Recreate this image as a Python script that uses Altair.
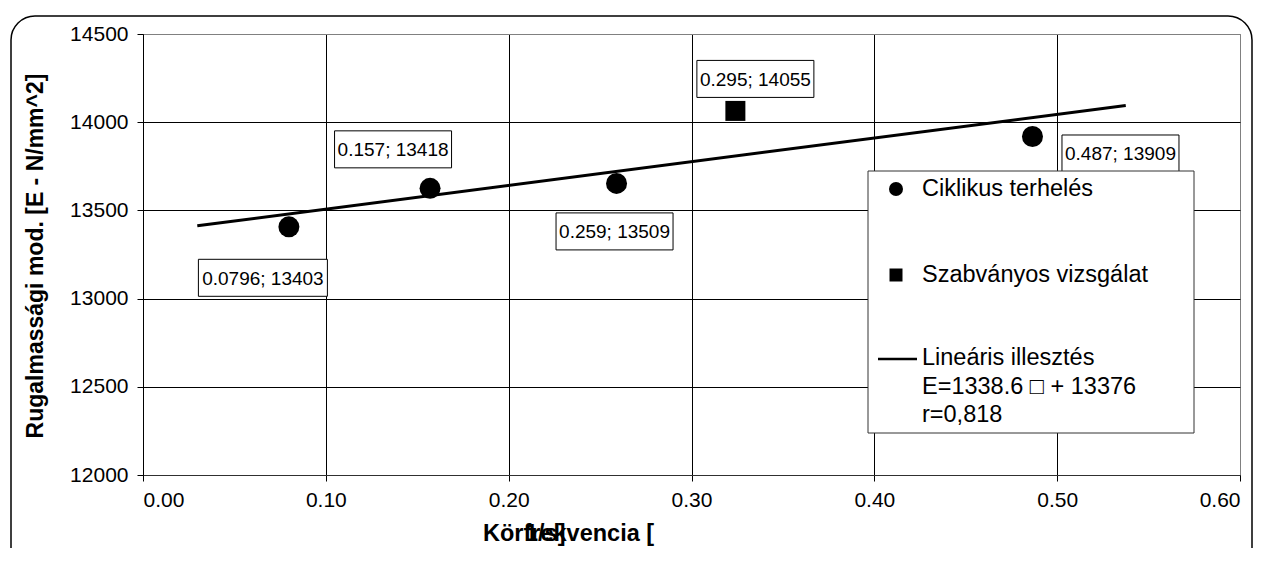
import altair as alt
import pandas as pd

# ---- data ----
cyc_x = [0.0798, 0.157, 0.259, 0.4865]          # Ciklikus terhelés
cyc_y = [13407, 13625, 13653, 13919]
std_x = [0.324]                                  # Szabványos vizsgálat
std_y = [14064]
fit_x = [0.0297, 0.5375]                         # Lineáris illesztés (end points)
fit_y = [13413, 14095]
label_text = ["0.0796; 13403", "0.157; 13418", "0.259; 13509", "0.295; 14055", "0.487; 13909"]
x_ticks = [0.0, 0.1, 0.2, 0.3, 0.4, 0.5, 0.6]
y_ticks = [12000, 12500, 13000, 13500, 14000, 14500]
legend_labels = ["Ciklikus terhelés", "Szabványos vizsgálat", "Lineáris illesztés",
                 "E=1338.6  \u25a1 + 13376", "r=0,818"]
x_title = "Körfrekvencia ["
x_title_overlap = "1/s]"
y_title = "Rugalmassági mod. [E - N/mm^2]"

FONT = "Liberation Sans"

# points each label belongs to (order of label_text)
label_x = cyc_x[:3] + std_x + cyc_x[3:]
label_y = cyc_y[:3] + std_y + cyc_y[3:]

df_cyc = pd.DataFrame({"x": cyc_x, "y": cyc_y})
df_std = pd.DataFrame({"x": std_x, "y": std_y})
df_fit = pd.DataFrame({"x": fit_x, "y": fit_y})

X = alt.X("x:Q",
          scale=alt.Scale(domain=[0, 0.6], nice=False, zero=False),
          axis=alt.Axis(values=x_ticks, format=".2f", title=None, grid=True,
                        gridColor={"condition": {"test": "datum.value >= 0.6", "value": "#808080"},
                                   "value": "#000000"},
                        tickSize=6, labelPadding=8, labelFontSize=21,
                        domainColor="#303030"))
Y = alt.Y("y:Q",
          scale=alt.Scale(domain=[12000, 14500], nice=False, zero=False),
          axis=alt.Axis(values=y_ticks, format="d", title=None, grid=True,
                        gridColor={"condition": {"test": "datum.value >= 14500", "value": "#808080"},
                                   "value": "#000000"},
                        tickSize=6, labelPadding=9, labelFontSize=21,
                        domainColor="#000000"))

one = pd.DataFrame({"k": [0]})

frame = alt.Chart(one).mark_rect(fill="white", fillOpacity=0, stroke="black",
                                 strokeWidth=1.5, cornerRadius=24).encode(
    x=alt.value(-132), x2=alt.value(1109), y=alt.value(-18), y2=alt.value(548))

line = alt.Chart(df_fit).mark_line(color="black", strokeWidth=3).encode(x=X, y=Y)
circles = alt.Chart(df_cyc).mark_point(shape="circle", filled=True, size=441,
                                       color="black", opacity=1).encode(x=X, y=Y)
squares = alt.Chart(df_std).mark_point(shape="square", filled=True, size=400,
                                       color="black", opacity=1).encode(x=X, y=Y)

# label box placement (pixel offsets of box centre from its point, box width)
offsets = [(-26, 51, 129), (-37, -39, 117), (-2, 48, 117), (20, -32, 117), (88, 17, 117)]
BOX_H = 37
label_layers = []
for i, (dx, dy, w) in enumerate(offsets):
    d = pd.DataFrame({"x": [label_x[i]], "y": [label_y[i]], "t": [label_text[i]]})
    box = alt.Chart(d).mark_rect(fill="white", stroke="black", strokeWidth=1,
                                 xOffset=dx - w / 2, x2Offset=dx + w / 2,
                                 yOffset=dy - BOX_H / 2, y2Offset=dy + BOX_H / 2).encode(
        x=X, x2="x", y=Y, y2="y")
    txt = alt.Chart(d).mark_text(font=FONT, fontSize=19, color="black", align="center",
                                 baseline="middle", dx=dx, dy=dy + 1).encode(
        x=X, y=Y, text="t:N")
    label_layers += [box, txt]

# legend (drawn by hand)
leg_box = alt.Chart(one).mark_rect(fill="white", stroke="#333333", strokeWidth=1).encode(
    x=alt.value(725), x2=alt.value(1051), y=alt.value(137), y2=alt.value(399))
leg_circ = alt.Chart(one).mark_point(shape="circle", filled=True, size=196, color="black",
                                     opacity=1).encode(x=alt.value(753), y=alt.value(155))
leg_sq = alt.Chart(one).mark_point(shape="square", filled=True, size=169, color="black",
                                   opacity=1).encode(x=alt.value(753), y=alt.value(241))
leg_line = alt.Chart(one).mark_rule(color="black", strokeWidth=2.5).encode(
    x=alt.value(735), x2=alt.value(774), y=alt.value(325))
leg_y = [155, 241, 324, 353, 381]
leg_texts = []
for lab, yy in zip(legend_labels, leg_y):
    leg_texts.append(
        alt.Chart(pd.DataFrame({"t": [lab]})).mark_text(
            font=FONT, fontSize=23.5, color="black", align="left", baseline="middle").encode(
            x=alt.value(779), y=alt.value(yy), text="t:N"))

# axis titles
ytitle = alt.Chart(pd.DataFrame({"t": [y_title]})).mark_text(
    font=FONT, fontSize=23, fontWeight="bold", angle=270, align="center",
    baseline="middle", color="black").encode(x=alt.value(-107), y=alt.value(222), text="t:N")
xtitle = alt.Chart(pd.DataFrame({"t": [x_title]})).mark_text(
    font=FONT, fontSize=23.5, fontWeight="bold", align="left", baseline="alphabetic",
    color="black").encode(x=alt.value(340), y=alt.value(507), text="t:N")
xtitle2 = alt.Chart(pd.DataFrame({"t": [x_title_overlap]})).mark_text(
    font=FONT, fontSize=23.5, fontWeight="bold", align="left", baseline="alphabetic",
    color="black").encode(x=alt.value(382), y=alt.value(507), text="t:N")

chart = alt.layer(
    frame, line, circles, squares, *label_layers,
    leg_box, leg_circ, leg_sq, leg_line, *leg_texts,
    ytitle, xtitle, xtitle2
).properties(
    width=1097, height=441,
    padding={"left": 135, "top": 26, "right": 13, "bottom": 73},
    autosize=alt.AutoSizeParams(type="none"),
    background="white",
).configure_view(
    stroke="#808080", strokeWidth=1
).configure_axis(
    labelFont=FONT, labelColor="black", tickColor="black", gridWidth=1, gridOpacity=1
)

chart.save("out.html", embed_options={"renderer": "svg", "actions": False})
